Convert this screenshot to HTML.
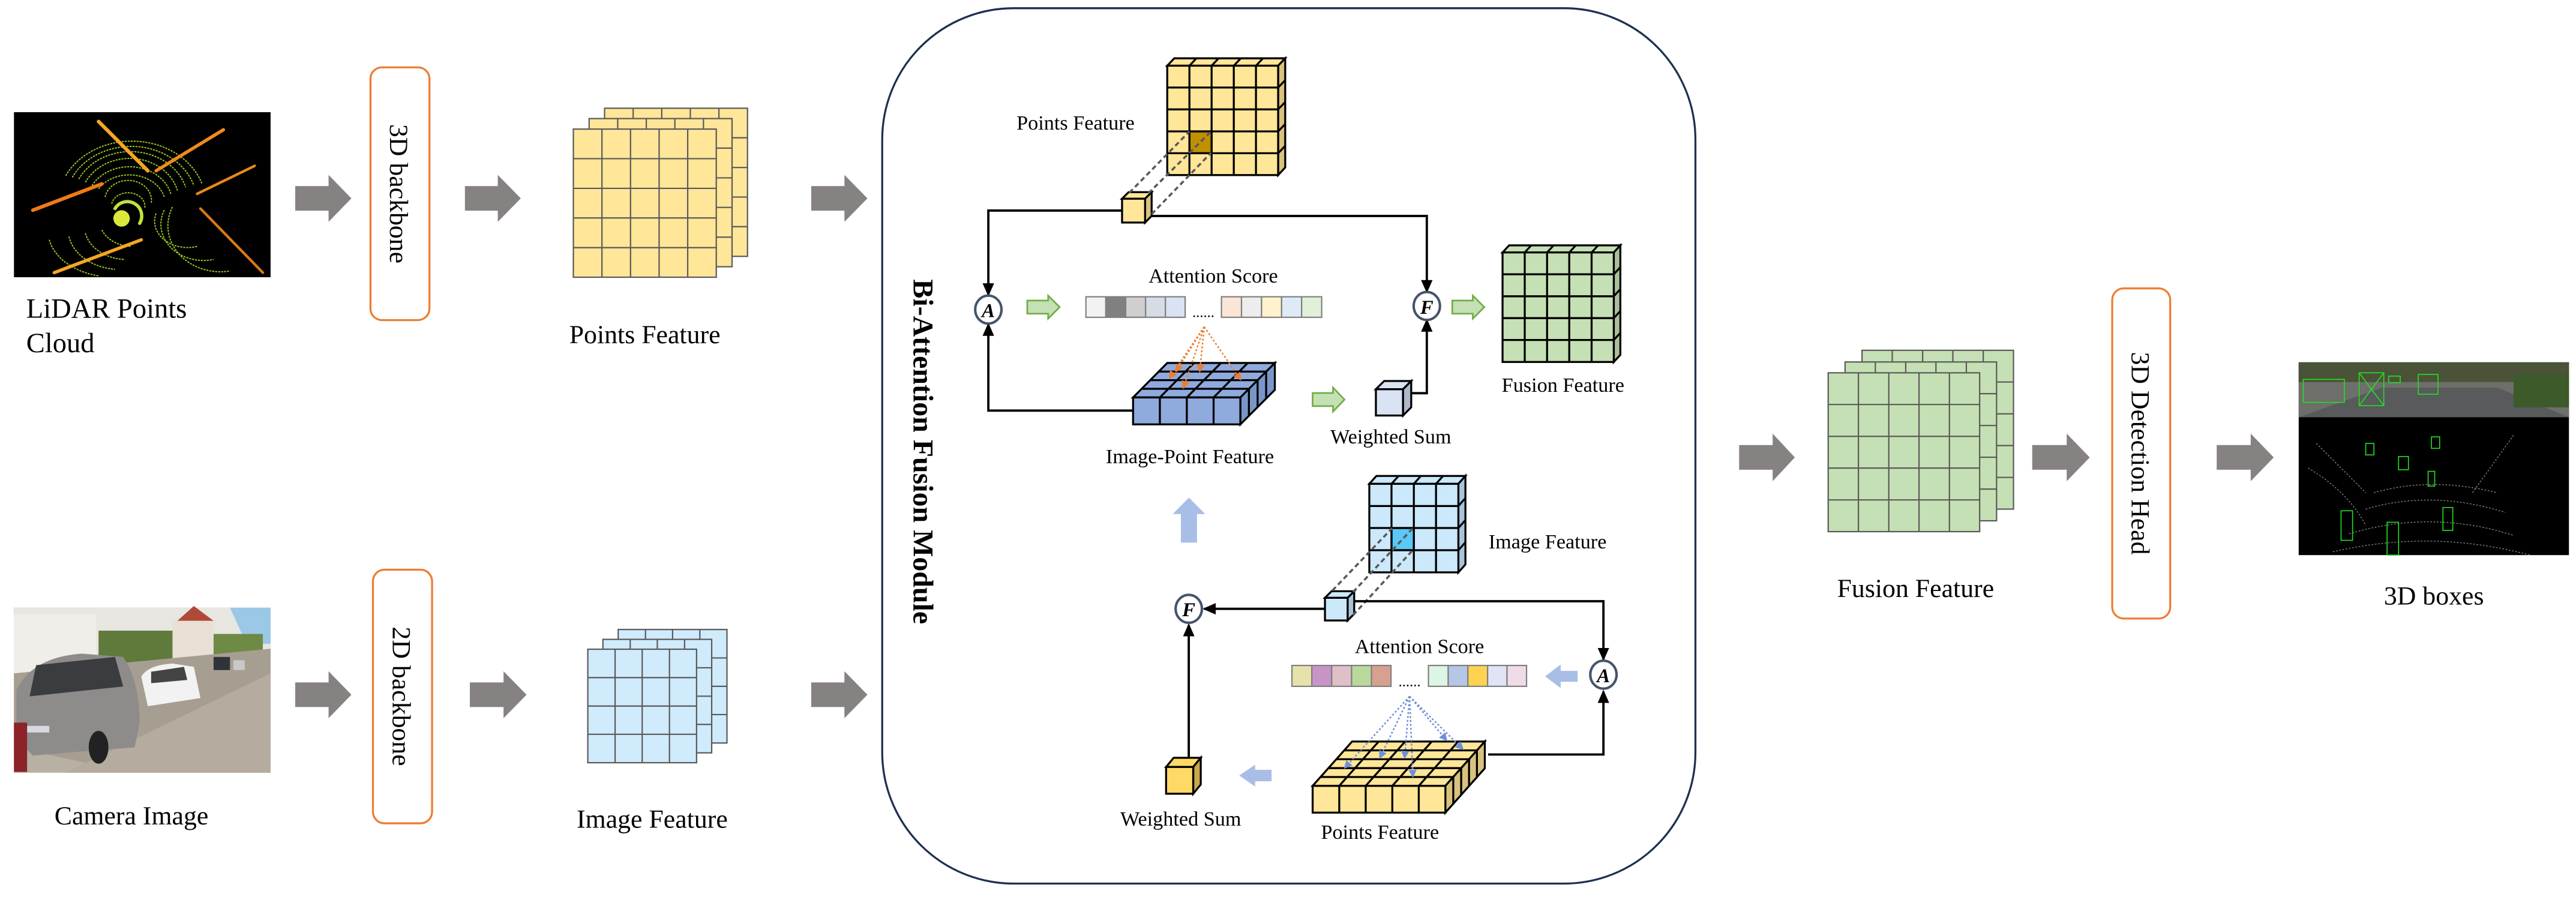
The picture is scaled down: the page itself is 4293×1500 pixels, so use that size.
<!DOCTYPE html>
<html><head><meta charset="utf-8"><style>
html,body{margin:0;padding:0;background:#fff;}
svg{display:block;}
svg text{font-family:"Liberation Serif","DejaVu Serif",serif;fill:#000;}
</style></head><body>
<svg width="4293" height="1500" viewBox="0 0 1568 548" preserveAspectRatio="none" xmlns="http://www.w3.org/2000/svg" font-family="Liberation Serif, DejaVu Serif, serif">
<defs>
<marker id="ah" markerWidth="8" markerHeight="8" refX="7" refY="4" orient="auto" markerUnits="userSpaceOnUse"><path d="M0,0.5 L8,4 L0,7.5 Z" fill="#000"/></marker>
<marker id="ao" markerWidth="5" markerHeight="5" refX="4" refY="2.5" orient="auto" markerUnits="userSpaceOnUse"><path d="M0,0 L5,2.5 L0,5 Z" fill="#ED7D31"/></marker>
<marker id="ab" markerWidth="5" markerHeight="5" refX="4" refY="2.5" orient="auto" markerUnits="userSpaceOnUse"><path d="M0,0 L5,2.5 L0,5 Z" fill="#6F8FD8"/></marker>
</defs>

<!-- LiDAR image -->
<rect x="8.5" y="68.3" width="156.2" height="100.5" fill="#000"/>
<g fill="none" stroke="#9BCB2A" stroke-width="0.7" stroke-dasharray="1.2 0.6">
<path d="M60,115 A22,18 0 0 1 100,120"/><path d="M56,113 A26,22 0 0 1 104,118"/><path d="M52,111 A30,26 0 0 1 108,116"/><path d="M48,109 A35,30 0 0 1 113,114"/><path d="M44,108 A40,34 0 0 1 118,113"/><path d="M40,107 A45,38 0 0 1 123,112"/>
<path d="M62,140 A20,16 0 0 0 80,150"/><path d="M52,142 A26,20 0 0 0 76,158"/><path d="M42,144 A32,24 0 0 0 70,164"/><path d="M30,146 A40,28 0 0 0 60,168"/>
<path d="M95,130 A20,16 0 0 0 120,150"/><path d="M100,128 A26,22 0 0 0 130,158"/><path d="M105,126 A32,28 0 0 0 140,165"/>
<path d="M64,120 A14,12 0 0 1 92,124"/><path d="M68,124 A10,8 0 0 1 88,127"/>
</g>
<g fill="none" stroke-linecap="round">
<path d="M60,74 L90,104" stroke="#F5A623" stroke-width="2.2"/>
<path d="M95,104 L136,79" stroke="#F08A1C" stroke-width="2"/>
<path d="M20,128 L62,112" stroke="#F07A18" stroke-width="2.2"/>
<path d="M33,166 L86,146" stroke="#F5A623" stroke-width="2"/>
<path d="M120,118 L155,101" stroke="#E8891A" stroke-width="1.6"/>
<path d="M122,127 L160,166" stroke="#D9781A" stroke-width="1.6"/>
<circle cx="74" cy="133" r="5" fill="#D9E83A" stroke="none"/>
<path d="M70,127 A8,8 0 1 1 85,136" stroke="#C4E23A" stroke-width="2"/>
</g>

<!-- Camera image -->
<rect x="8.5" y="370" width="156.2" height="100.5" fill="#B8B0A2"/>
<rect x="8.5" y="370" width="156.2" height="40" fill="#E8E6E0"/>
<polygon points="140,370 164.7,370 164.7,392 150,392" fill="#9CC8E8"/>
<rect x="8.5" y="374" width="50" height="36" fill="#F0EEE8"/>
<rect x="60" y="384" width="48" height="36" fill="#5F7A3A"/>
<rect x="105" y="378" width="25" height="30" fill="#E9E0D5"/>
<polygon points="108,378 118,369 130,378" fill="#B04A38"/>
<rect x="130" y="386" width="30" height="24" fill="#6E8A44"/>
<polygon points="8.5,410 164.7,395 164.7,470.5 80,470.5 8.5,455" fill="#A79E92"/>
<polygon points="40,470.5 164.7,410 164.7,470.5" fill="#B5AB9F"/>
<path d="M10,420 Q20,400 50,398 L75,400 Q85,415 85,440 L82,455 L20,460 L10,450 Z" fill="#8E8C8A"/>
<path d="M22,405 L70,400 L75,418 L18,424 Z" fill="#3A3C40"/>
<rect x="14" y="442" width="16" height="4" fill="#D8D8E0"/>
<ellipse cx="60" cy="455" rx="6" ry="10" fill="#222"/>
<path d="M86,412 Q90,405 105,404 L118,406 L122,425 L90,430 Z" fill="#F2F2F2"/>
<path d="M92,409 L112,406 L114,414 L92,416 Z" fill="#444"/>
<rect x="130" y="400" width="10" height="8" fill="#30343A"/>
<rect x="142" y="402" width="7" height="6" fill="#C8C8C8"/>
<rect x="8.5" y="440" width="8" height="30" fill="#8B2328"/>

<!-- gray arrows -->
<g fill="#878282">
<polygon points="179.7,113.3 200,113.3 200,106.5 213.9,120.8 200,135.1 200,128.3 179.7,128.3"/>
<polygon points="283,113.3 303,113.3 303,106.5 317,120.8 303,135.1 303,128.3 283,128.3"/>
<polygon points="493.8,113.3 514,113.3 514,106.5 528,120.8 514,135.1 514,128.3 493.8,128.3"/>
<polygon points="179.7,415.5 200,415.5 200,408.7 213.9,423 200,437.3 200,430.5 179.7,430.5"/>
<polygon points="286,415.5 306.5,415.5 306.5,408.7 320.5,423 306.5,437.3 306.5,430.5 286,430.5"/>
<polygon points="493.8,415.5 514,415.5 514,408.7 528,423 514,437.3 514,430.5 493.8,430.5"/>
<polygon points="1058.6,271 1079,271 1079,264 1092.5,278.5 1079,293 1079,286 1058.6,286"/>
<polygon points="1237,271 1258,271 1258,264 1272,278.5 1258,293 1258,286 1237,286"/>
<polygon points="1349.3,271 1370,271 1370,264 1384,278.5 1370,293 1370,286 1349.3,286"/>
</g>

<!-- backbone boxes -->
<rect x="225.5" y="41" width="35.9" height="153.9" rx="7" fill="#fff" stroke="#ED7D31" stroke-width="1.2"/>
<text transform="translate(237.5,118) rotate(90)" font-size="16" text-anchor="middle">3D backbone</text>
<rect x="227" y="346.9" width="36" height="154.4" rx="7" fill="#fff" stroke="#ED7D31" stroke-width="1.2"/>
<text transform="translate(239,424) rotate(90)" font-size="16" text-anchor="middle">2D backbone</text>
<rect x="1285.7" y="175.6" width="35.3" height="201" rx="7" fill="#fff" stroke="#ED7D31" stroke-width="1.2"/>
<text transform="translate(1297.5,276) rotate(90)" font-size="16" text-anchor="middle">3D Detection Head</text>

<!-- Points Feature stack -->
<g stroke="#595959" stroke-width="0.8" fill="#FFE699">
<rect x="368" y="65.9" width="87" height="90.2"/>
<path d="M385.4,65.9V156.1 M402.8,65.9V156.1 M420.2,65.9V156.1 M437.6,65.9V156.1 M368,83.9H455 M368,102H455 M368,120H455 M368,138H455" fill="none"/>
<rect x="358.6" y="72.2" width="87" height="90.2"/>
<path d="M376,72.2V162.4 M393.4,72.2V162.4 M410.8,72.2V162.4 M428.2,72.2V162.4 M358.6,90.2H445.6 M358.6,108.3H445.6 M358.6,126.3H445.6 M358.6,144.4H445.6" fill="none"/>
<rect x="349" y="78.6" width="87" height="90.2"/>
<path d="M366.4,78.6V168.8 M383.8,78.6V168.8 M401.2,78.6V168.8 M418.6,78.6V168.8 M349,96.6H436 M349,114.7H436 M349,132.7H436 M349,150.8H436" fill="none"/>
</g>
<text x="392.5" y="209" font-size="16" text-anchor="middle">Points Feature</text>

<!-- Image Feature stack -->
<g stroke="#595959" stroke-width="0.8" fill="#D0EBFC">
<rect x="376.3" y="383.3" width="66.2" height="69.1"/>
<path d="M392.9,383.3V452.4 M409.4,383.3V452.4 M426,383.3V452.4 M376.3,400.6H442.5 M376.3,417.9H442.5 M376.3,435.1H442.5" fill="none"/>
<rect x="367" y="389.3" width="66.2" height="69.1"/>
<path d="M383.6,389.3V458.4 M400.1,389.3V458.4 M416.7,389.3V458.4 M367,406.6H433.2 M367,423.9H433.2 M367,441.1H433.2" fill="none"/>
<rect x="357.8" y="395.3" width="66.2" height="69.1"/>
<path d="M374.4,395.3V464.4 M390.9,395.3V464.4 M407.5,395.3V464.4 M357.8,412.6H424 M357.8,429.9H424 M357.8,447.1H424" fill="none"/>
</g>
<text x="397" y="504" font-size="16" text-anchor="middle">Image Feature</text>

<text x="16" y="193.4" font-size="17">LiDAR Points</text>
<text x="16" y="214.5" font-size="17">Cloud</text>
<text x="80" y="502" font-size="16" text-anchor="middle">Camera Image</text>

<!-- Fusion stack -->
<g stroke="#595959" stroke-width="0.8" fill="#C5E0B4">
<rect x="1133.4" y="213.3" width="92.2" height="96.7"/>
<path d="M1151.8,213.3V310 M1170.3,213.3V310 M1188.7,213.3V310 M1207.2,213.3V310 M1133.4,232.6H1225.6 M1133.4,252H1225.6 M1133.4,271.3H1225.6 M1133.4,290.7H1225.6" fill="none"/>
<rect x="1123.1" y="220.4" width="92.2" height="96.7"/>
<path d="M1141.5,220.4V317.1 M1160,220.4V317.1 M1178.4,220.4V317.1 M1196.9,220.4V317.1 M1123.1,239.7H1215.3 M1123.1,259.1H1215.3 M1123.1,278.4H1215.3 M1123.1,297.8H1215.3" fill="none"/>
<rect x="1112.8" y="227" width="92.2" height="96.7"/>
<path d="M1131.2,227V323.7 M1149.7,227V323.7 M1168.1,227V323.7 M1186.6,227V323.7 M1112.8,246.3H1205 M1112.8,265.7H1205 M1112.8,285H1205 M1112.8,304.4H1205" fill="none"/>
</g>
<text x="1166" y="363.6" font-size="16" text-anchor="middle">Fusion Feature</text>

<!-- 3D boxes image -->
<rect x="1399.2" y="220.6" width="164.5" height="117.4" fill="#000"/>
<rect x="1399.2" y="220.6" width="164.5" height="33.4" fill="#6E6E6A"/>
<rect x="1399.2" y="220.6" width="164.5" height="12" fill="#4A5238"/>
<polygon points="1399.2,254 1450,236 1520,236 1563.7,254" fill="#585A5C"/>
<rect x="1530" y="228" width="33.7" height="20" fill="#3C5A2A"/>
<g fill="none" stroke="#22E022" stroke-width="0.6">
<rect x="1402" y="231" width="25" height="14"/><rect x="1436" y="227" width="15" height="20"/><path d="M1436,227 L1451,247 M1451,227 L1436,247"/>
<rect x="1472" y="228" width="12" height="12"/><rect x="1454" y="229" width="7" height="4"/>
<rect x="1480" y="266" width="5" height="7"/><rect x="1460" y="278" width="6" height="8"/><rect x="1440" y="270" width="5" height="7"/><rect x="1478" y="287" width="4" height="9"/>
<rect x="1425" y="311" width="7" height="18"/><rect x="1453" y="318" width="7" height="20"/><rect x="1487" y="309" width="6" height="14"/>
</g>
<g fill="none" stroke="#888" stroke-width="0.5" stroke-dasharray="1 1">
<path d="M1445,300 Q1480,290 1520,300"/><path d="M1440,310 Q1480,298 1525,312"/><path d="M1430,325 Q1480,310 1530,326"/><path d="M1420,336 Q1480,322 1540,338"/>
<path d="M1410,270 L1440,300"/><path d="M1530,265 L1505,300"/><path d="M1405,285 Q1430,300 1440,320"/>
</g>
<text x="1481.5" y="368" font-size="16" text-anchor="middle">3D boxes</text>

<!-- Module -->
<rect x="537" y="5" width="495" height="533" rx="80" fill="none" stroke="#1F3050" stroke-width="1.2"/>
<text transform="translate(556,275) rotate(90)" font-size="17.5" font-weight="bold" text-anchor="middle">Bi-Attention Fusion Module</text>

<!-- Top Points Feature cube -->
<g stroke="#000" stroke-width="1.2" fill="#FFE699">
<polygon points="710.5,40 714.8,35.5 782.3,35.5 778,40"/>
<polygon points="778,40 782.3,35.5 782.3,102 778,106.6" fill="#D9C27E"/>
<rect x="710.5" y="40" width="67.5" height="66.6"/>
<rect x="724" y="80" width="13.5" height="13.3" fill="#BF9000"/>
<path d="M724,40V106.6 M737.5,40V106.6 M751,40V106.6 M764.5,40V106.6 M710.5,53.3H778 M710.5,66.6H778 M710.5,80H778 M710.5,93.3H778 M724,40L728.3,35.5 M737.5,40L741.8,35.5 M751,40L755.3,35.5 M764.5,40L768.8,35.5 M778,53.3L782.3,48.8 M778,66.6L782.3,62.1 M778,80L782.3,75.5 M778,93.3L782.3,88.8" fill="none"/>
</g>
<text x="654.7" y="79" font-size="12.5" text-anchor="middle">Points Feature</text>
<g stroke="#000" stroke-width="1.2" fill="#FFE699">
<polygon points="683,121 687,117 701,117 697,121"/>
<polygon points="697,121 701,117 701,131.5 697,135.5" fill="#D9C27E"/>
<rect x="683" y="121" width="14" height="14.5"/>
</g>
<g stroke="#595959" stroke-width="1.3" stroke-dasharray="3 2" fill="none">
<path d="M687.4,117.4L724,80 M699,117.7L737.2,80 M701,130.4L737.2,93"/>
</g>
<g stroke="#000" stroke-width="1.4" fill="none">
<path d="M683,128.2H601.6V179.5" marker-end="url(#ah)"/>
<path d="M701,131.5H868.5V177.5" marker-end="url(#ah)"/>
<path d="M689.7,250H601.6V197.5" marker-end="url(#ah)"/>
<path d="M858,239.4H868.5V195" marker-end="url(#ah)"/>
</g>
<g stroke="#44546A" stroke-width="1.5" fill="#fff">
<ellipse cx="601.6" cy="188.5" rx="8" ry="8.5"/>
<ellipse cx="868.5" cy="186.3" rx="8" ry="8.5"/>
</g>
<text x="601.6" y="193" font-size="12" font-style="italic" font-weight="bold" text-anchor="middle">A</text>
<text x="868.5" y="191" font-size="12" font-style="italic" font-weight="bold" text-anchor="middle">F</text>
<g fill="#C5E0B4" stroke="#70AD47" stroke-width="1">
<polygon points="625.3,183 638,183 638,180 645,187 638,194 638,191 625.3,191"/>
<polygon points="884,183 896.5,183 896.5,180 903.5,187 896.5,194 896.5,191 884,191"/>
<polygon points="799,239.3 811.4,239.3 811.4,236 818.4,243.3 811.4,250.6 811.4,247.3 799,247.3"/>
</g>
<text x="738.5" y="172" font-size="12.5" text-anchor="middle">Attention Score</text>
<g stroke="#7F7F7F" stroke-width="0.8">
<rect x="661" y="180.7" width="12.1" height="12.5" fill="#F2F2F2"/>
<rect x="673.1" y="180.7" width="12.1" height="12.5" fill="#808080"/>
<rect x="685.2" y="180.7" width="12.1" height="12.5" fill="#D0CECE"/>
<rect x="697.3" y="180.7" width="12.1" height="12.5" fill="#D6DCE4"/>
<rect x="709.4" y="180.7" width="12" height="12.5" fill="#DAE3F3"/>
<rect x="743.5" y="180.7" width="12.2" height="12.5" fill="#FBE5D6"/>
<rect x="755.7" y="180.7" width="12.2" height="12.5" fill="#EDEDED"/>
<rect x="767.9" y="180.7" width="12.2" height="12.5" fill="#FFF2CC"/>
<rect x="780.1" y="180.7" width="12.2" height="12.5" fill="#DEEBF7"/>
<rect x="792.3" y="180.7" width="12.2" height="12.5" fill="#E2F0D9"/>
</g>
<text x="732.5" y="193" font-size="9" text-anchor="middle">......</text>
<g stroke="#000" stroke-width="1.2" fill="#8FAADC">
<polygon points="689.7,242 710.5,221 776,221 755,242"/>
<polygon points="755,242 776,221 776,237.4 755,258.4" fill="#7A96C8"/>
<rect x="689.7" y="242" width="65.3" height="16.4"/>
<path d="M706,242V258.4 M722.4,242V258.4 M738.7,242V258.4 M706,242L726.8,221 M722.4,242L743.2,221 M738.7,242L759.5,221 M694.9,236.75H760.2 M700.1,231.5H765.5 M705.3,226.25H770.7 M760.2,236.75V253.15 M765.5,231.5V247.9 M770.7,226.25V242.65" fill="none"/>
</g>
<g stroke="#ED7D31" stroke-width="0.9" stroke-dasharray="1.2 1.2" fill="none">
<path d="M733,199L712,230" marker-end="url(#ao)"/>
<path d="M733,199L720.4,236" marker-end="url(#ao)"/>
<path d="M733,199L730.3,226" marker-end="url(#ao)"/>
<path d="M733,199L755,231" marker-end="url(#ao)"/>
<path d="M733,199L716,226" marker-end="url(#ao)"/>
</g>
<text x="724.3" y="282" font-size="12.5" text-anchor="middle">Image-Point Feature</text>
<g stroke="#000" stroke-width="1.2" fill="#DAE3F3">
<polygon points="837.5,237 842.5,232 859,232 854,237"/>
<polygon points="854,237 859,232 859,248 854,253" fill="#ADB9CA"/>
<rect x="837.5" y="237" width="16.5" height="16"/>
</g>
<text x="846.6" y="270" font-size="12.5" text-anchor="middle">Weighted Sum</text>
<g stroke="#000" stroke-width="1.2" fill="#C5E0B4">
<polygon points="914.6,153.7 918.6,149.4 986.3,149.4 982.3,153.7"/>
<polygon points="982.3,153.7 986.3,149.4 986.3,216.1 982.3,220.4" fill="#A9C09A"/>
<rect x="914.6" y="153.7" width="67.7" height="66.7"/>
<path d="M928.1,153.7V220.4 M941.7,153.7V220.4 M955.2,153.7V220.4 M968.8,153.7V220.4 M914.6,167H982.3 M914.6,180.4H982.3 M914.6,193.7H982.3 M914.6,207H982.3 M928.1,153.7L932.1,149.4 M941.7,153.7L945.7,149.4 M955.2,153.7L959.2,149.4 M968.8,153.7L972.8,149.4 M982.3,167L986.3,162.7 M982.3,180.4L986.3,176.1 M982.3,193.7L986.3,189.4 M982.3,207L986.3,202.7" fill="none"/>
</g>
<text x="951.4" y="238.5" font-size="12.5" text-anchor="middle">Fusion Feature</text>

<polygon points="718.8,330.4 718.8,313 713.8,313 723.7,303 733.6,313 728.6,313 728.6,330.4" fill="#A9BEE6"/>
<g stroke="#000" stroke-width="1.2" fill="#CCE8FB">
<polygon points="833.5,294.6 837.8,289.8 892,289.8 887.7,294.6"/>
<polygon points="887.7,294.6 892,289.8 892,343.7 887.7,348.5" fill="#A9C4D8"/>
<rect x="833.5" y="294.6" width="54.2" height="53.9"/>
<rect x="847" y="321.5" width="13.6" height="13.5" fill="#5BC8F5"/>
<path d="M847,294.6V348.5 M860.6,294.6V348.5 M874.1,294.6V348.5 M833.5,308.1H887.7 M833.5,321.5H887.7 M833.5,335H887.7 M847,294.6L851.3,289.8 M860.6,294.6L864.9,289.8 M874.1,294.6L878.4,289.8 M887.7,308.1L892,303.3 M887.7,321.5L892,316.7 M887.7,335L892,330.2" fill="none"/>
</g>
<text x="942" y="334" font-size="12.5" text-anchor="middle">Image Feature</text>
<g stroke="#000" stroke-width="1.2" fill="#CCE8FB">
<polygon points="806.5,364 810.5,360 824.3,360 820.3,364"/>
<polygon points="820.3,364 824.3,360 824.3,373.8 820.3,377.8" fill="#A9C4D8"/>
<rect x="806.5" y="364" width="13.8" height="13.8"/>
</g>
<g stroke="#595959" stroke-width="1.3" stroke-dasharray="3 2" fill="none">
<path d="M811,359.6L847.4,321.6 M823.6,360.5L860,321.6 M823.6,374.6L860,334.9"/>
</g>
<g stroke="#000" stroke-width="1.4" fill="none">
<path d="M806.5,370.7H733" marker-end="url(#ah)"/>
<path d="M824.3,366.1H976V401.5" marker-end="url(#ah)"/>
<path d="M905.8,459.4H976V421" marker-end="url(#ah)"/>
<path d="M723.6,461.4V380.5" marker-end="url(#ah)"/>
</g>
<g stroke="#44546A" stroke-width="1.5" fill="#fff">
<ellipse cx="723.6" cy="370.7" rx="8" ry="8.5"/>
<ellipse cx="976" cy="410.8" rx="8" ry="8.5"/>
</g>
<text x="723.6" y="375.2" font-size="12" font-style="italic" font-weight="bold" text-anchor="middle">F</text>
<text x="976" y="415.3" font-size="12" font-style="italic" font-weight="bold" text-anchor="middle">A</text>
<text x="864" y="397.6" font-size="12.5" text-anchor="middle">Attention Score</text>
<g stroke="#7F7F7F" stroke-width="0.8">
<rect x="786.4" y="405.2" width="12.1" height="12.7" fill="#E6E2AC"/>
<rect x="798.5" y="405.2" width="12.1" height="12.7" fill="#C894C8"/>
<rect x="810.6" y="405.2" width="12.1" height="12.7" fill="#E0C0C8"/>
<rect x="822.7" y="405.2" width="12.1" height="12.7" fill="#B8D89C"/>
<rect x="834.8" y="405.2" width="11.9" height="12.7" fill="#D8A090"/>
<rect x="869.5" y="405.2" width="12" height="12.7" fill="#DDF5E5"/>
<rect x="881.5" y="405.2" width="12" height="12.7" fill="#B4C7E7"/>
<rect x="893.5" y="405.2" width="12" height="12.7" fill="#FFD34F"/>
<rect x="905.5" y="405.2" width="11.8" height="12.7" fill="#E0E4F6"/>
<rect x="917.3" y="405.2" width="11.9" height="12.7" fill="#EEDCE8"/>
</g>
<text x="858" y="418" font-size="9" text-anchor="middle">......</text>
<polygon points="960.3,408.5 950,408.5 950,404.6 940.5,411.8 950,419 950,415.1 960.3,415.1" fill="#A9BEE6"/>
<polygon points="774,468.7 764,468.7 764,465.6 754.3,472.2 764,478.9 764,475.7 774,475.7" fill="#A9BEE6"/>
<g stroke="#000" stroke-width="1.2" fill="#FFE699">
<polygon points="799,478.5 823,451.5 903.8,451.5 879.8,478.5"/>
<polygon points="879.8,478.5 903.8,451.5 903.8,467.8 879.8,494.8" fill="#D9C27E"/>
<rect x="799" y="478.5" width="80.8" height="16.3"/>
<path d="M815.2,478.5V494.8 M831.3,478.5V494.8 M847.5,478.5V494.8 M863.6,478.5V494.8 M815.2,478.5L839.2,451.5 M831.3,478.5L855.3,451.5 M847.5,478.5L871.5,451.5 M863.6,478.5L887.6,451.5 M803.8,473.1H884.6 M808.6,467.7H889.4 M813.4,462.3H894.2 M818.2,456.9H899 M884.6,473.1V489.4 M889.4,467.7V484 M894.2,462.3V478.6 M899,456.9V473.2" fill="none"/>
</g>
<g stroke="#6F8FD8" stroke-width="0.9" stroke-dasharray="1.2 1.2" fill="none">
<path d="M858,424L818.7,467.4" marker-end="url(#ab)"/>
<path d="M858,424L840,461.2" marker-end="url(#ab)"/>
<path d="M858,424L855,461.2" marker-end="url(#ab)"/>
<path d="M858,424L860,472.7" marker-end="url(#ab)"/>
<path d="M858,424L880.4,450.6" marker-end="url(#ab)"/>
<path d="M858,424L890.3,456" marker-end="url(#ab)"/>
</g>
<text x="840" y="510.7" font-size="12.5" text-anchor="middle">Points Feature</text>
<g stroke="#000" stroke-width="1.2" fill="#FFD966">
<polygon points="709.8,467 714.4,461.4 730.9,461.4 726.3,467"/>
<polygon points="726.3,467 730.9,461.4 730.9,477.7 726.3,483.3" fill="#C9A84C"/>
<rect x="709.8" y="467" width="16.5" height="16.3"/>
</g>
<text x="718.7" y="502.7" font-size="12.5" text-anchor="middle">Weighted Sum</text>
</svg>
</body></html>
